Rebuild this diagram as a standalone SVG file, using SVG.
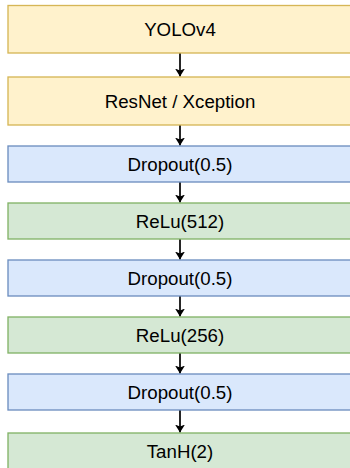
<svg xmlns="http://www.w3.org/2000/svg" width="350" height="468" viewBox="0 0 350 468">
  <style>
    .y { fill: #fff2cc; stroke: #d6b656; stroke-width: 1.33; }
    .b { fill: #dae8fc; stroke: #6c8ebf; stroke-width: 1.33; }
    .g { fill: #d5e8d4; stroke: #82b366; stroke-width: 1.33; }
    text { font-family: "Liberation Sans", Arial, Helvetica, sans-serif; font-size: 18.7px; fill: #000000; text-anchor: middle; }
    .c { stroke: #000000; stroke-width: 1.7; fill: none; }
  </style>
  <defs>
    <marker id="arr" viewBox="0 0 10 10" refX="10" refY="5" markerWidth="8" markerHeight="10" markerUnits="userSpaceOnUse" orient="auto" preserveAspectRatio="none">
      <path d="M0,0 L10,5 L0,10 L2.5,5 z" fill="#000000"/>
    </marker>
  </defs>
  <rect width="350" height="468" fill="#ffffff"/>
  <g id="connectors">
    <line class="c" x1="180" y1="53" x2="180" y2="76.5" marker-end="url(#arr)"/>
    <line class="c" x1="180" y1="125" x2="180" y2="145.5" marker-end="url(#arr)"/>
    <line class="c" x1="180" y1="182" x2="180" y2="202.5" marker-end="url(#arr)"/>
    <line class="c" x1="180" y1="239" x2="180" y2="259.5" marker-end="url(#arr)"/>
    <line class="c" x1="180" y1="296" x2="180" y2="316.5" marker-end="url(#arr)"/>
    <line class="c" x1="180" y1="353" x2="180" y2="373.5" marker-end="url(#arr)"/>
    <line class="c" x1="180" y1="410" x2="180" y2="432.5" marker-end="url(#arr)"/>
  </g>
  <g id="yolo">
    <rect class="y" x="8" y="5.5" width="344" height="47.5"/>
    <text x="180" y="36">YOLOv4</text>
  </g>
  <g id="resnet">
    <rect class="y" x="8" y="77" width="344" height="48"/>
    <text x="180" y="107.5">ResNet / Xception</text>
  </g>
  <g id="dropout1">
    <rect class="b" x="8" y="146" width="344" height="36"/>
    <text x="180" y="170.7">Dropout(0.5)</text>
  </g>
  <g id="relu512">
    <rect class="g" x="8" y="203" width="344" height="36"/>
    <text x="180" y="227.7">ReLu(512)</text>
  </g>
  <g id="dropout2">
    <rect class="b" x="8" y="260" width="344" height="36"/>
    <text x="180" y="284.7">Dropout(0.5)</text>
  </g>
  <g id="relu256">
    <rect class="g" x="8" y="317" width="344" height="36"/>
    <text x="180" y="341.7">ReLu(256)</text>
  </g>
  <g id="dropout3">
    <rect class="b" x="8" y="374" width="344" height="36"/>
    <text x="180" y="398.7">Dropout(0.5)</text>
  </g>
  <g id="tanh">
    <rect class="g" x="8" y="433" width="344" height="36"/>
    <text x="180" y="457.7">TanH(2)</text>
  </g>
</svg>
